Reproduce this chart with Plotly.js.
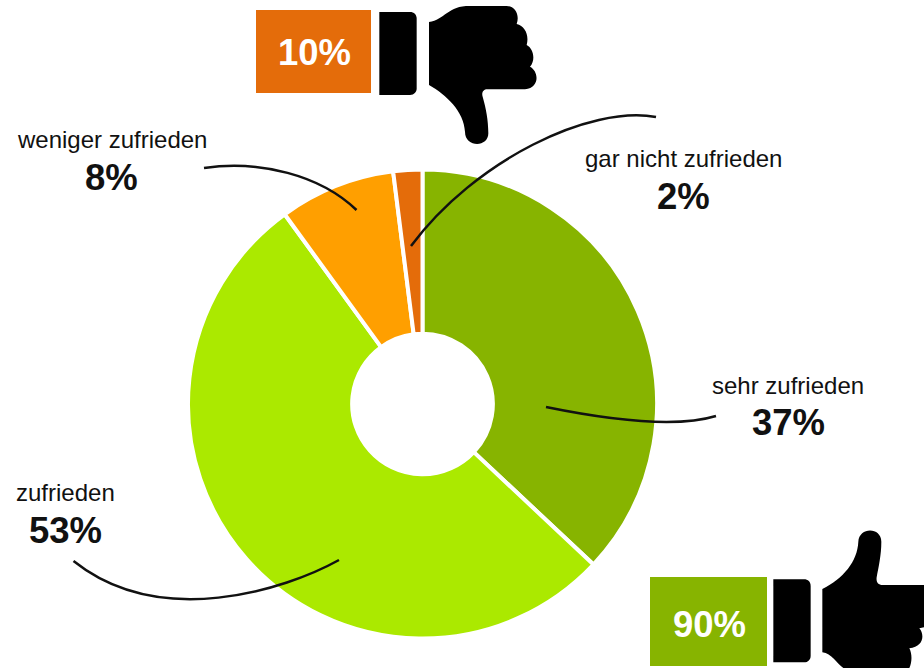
<!DOCTYPE html>
<html>
<head>
<meta charset="utf-8">
<script src="https://cdn.plot.ly/plotly-3.0.1.min.js"></script>
<style>html,body{margin:0;padding:0;background:#fff}#c{width:924px;height:668px}</style>
</head>
<body>
<div id="c"></div>
<script>
const categories = ["sehr zufrieden", "zufrieden", "weniger zufrieden", "gar nicht zufrieden"];
const values = [37, 53, 8, 2];
const colors = ["#87B400", "#ABE900", "#FF9F00", "#E46C0A"];
const summaryLabels = ["10%", "90%"];
const W = 924, H = 668;
const font = "Liberation Sans, Arial, sans-serif";

// pixel path -> paper path
function path(d, ox = 0, oy = 0, s = 1) {
  let i = 0;
  return d.replace(/-?\d+(\.\d+)?/g, n => {
    const isX = (i++ % 2) === 0;
    const v = parseFloat(n) * s;
    return isX ? ((v + ox) / W).toFixed(5) : (1 - (v + oy) / H).toFixed(5);
  });
}
function shapePath(d, ox, oy, s, extra) {
  return Object.assign({type: "path", xref: "paper", yref: "paper", path: path(d, ox, oy, s),
    line: {width: 0}, fillcolor: "#000", layer: "above"}, extra || {});
}
function box(x0, y0, x1, y1, color) {
  return {type: "rect", xref: "paper", yref: "paper", x0: x0 / W, x1: x1 / W, y0: 1 - y0 / H, y1: 1 - y1 / H,
    fillcolor: color, line: {width: 0}, layer: "above"};
}
function leader(d) {
  return {type: "path", xref: "paper", yref: "paper", path: path(d), fillcolor: "rgba(0,0,0,0)",
    line: {color: "#111", width: 2.5}, layer: "above"};
}
function txt(t, x, y, size, bold, color) {
  return {xref: "paper", yref: "paper", x: x / W, y: 1 - y / H, xanchor: "center", yanchor: "middle",
    showarrow: false, text: bold ? "<b>" + t + "</b>" : t,
    font: {family: font, size: size, color: color || "#111"}};
}

const thumbDown = "M537 66 C560 64 575 50 590 40 C610 26 625 18 660 18 L770 18 C795 18 810 45 800 72 C825 78 838 105 830 135 C850 145 858 180 840 200 C865 212 872 262 825 268 L712 268 C700 268 694 278 698 290 C708 325 715 360 715 400 C715 443 645 443 645 395 C642 335 590 285 537 255 Z";
const cuffDown = "M388 36 L480 36 C492 36 500 44 500 56 L500 265 C500 277 492 285 480 285 L388 285 Z";
const thumbUp = "M547 207 C610 175 652 125 655 65 C657 20 724 20 724 65 C724 105 716 140 710 172 C708 186 714 195 728 195 L852 195 L852 322 L838 325 C855 345 850 380 808 385 C818 405 815 430 808 444 L610 444 C590 430 575 400 547 397 Z";
const cuffUp = "M400 178 L492 178 C504 178 512 186 512 198 L512 407 C512 419 504 427 492 427 L400 427 Z";

const shapes = [
  box(256, 10, 371, 93, "#E46C0A"),
  box(650, 577, 767, 666, "#87B400"),
  shapePath(cuffDown, 250, 0, 1/3),
  shapePath(thumbDown, 250, 0, 1/3),
  shapePath(cuffUp, 640, 520, 1/3),
  shapePath(thumbUp, 640, 520, 1/3),
  leader("M546 407 C590 416 670 430 716 416"),
  leader("M339 560 C285 590 160 630 73.5 561"),
  leader("M204 168 C260 160 320 175 356.5 210"),
  leader("M656 117 C590 105 475 160 411 246")
];

const annotations = [
  txt(summaryLabels[0], 314, 52, 36.5, true, "#fff"),
  txt(summaryLabels[1], 709, 624, 36.5, true, "#fff"),
  txt(categories[0], 787.5, 385, 24),
  txt(values[0] + "%", 788, 422, 36.5, true),
  txt(categories[1], 65, 492, 24),
  txt(values[1] + "%", 65, 530, 36.5, true),
  txt(categories[2], 111.5, 139, 24),
  txt(values[2] + "%", 111, 177, 36.5, true),
  txt(categories[3], 683, 158, 24),
  txt(values[3] + "%", 683, 197, 36.5, true)
];

const trace = {
  type: "pie", labels: categories, values: values, sort: false, direction: "clockwise", rotation: 0,
  hole: 0.3, textinfo: "none", hoverinfo: "none",
  marker: {colors: colors, line: {color: "#fff", width: 4}},
  domain: {x: [188 / W, 657 / W], y: [1 - 638.5 / H, 1 - 169.5 / H]}
};

Plotly.newPlot("c", [trace], {
  width: W, height: H, margin: {l: 0, r: 0, t: 0, b: 0},
  paper_bgcolor: "#fff", plot_bgcolor: "#fff", showlegend: false,
  shapes: shapes, annotations: annotations
}, {displayModeBar: false, staticPlot: true});
</script>
</body>
</html>
